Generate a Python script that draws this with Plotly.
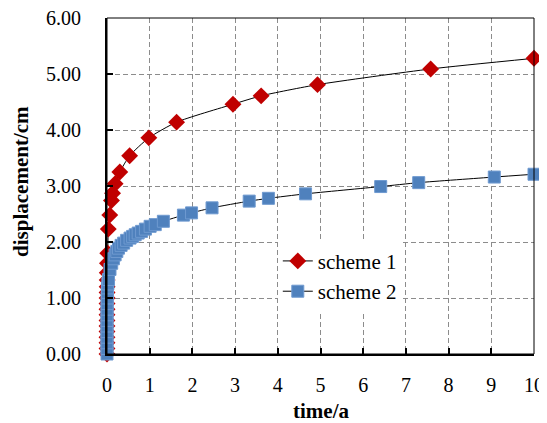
import plotly.graph_objects as go

# scheme 1 (red diamonds)
t1 = [0, 0, 0, 0, 0, 0, 0, 0, 0.001, 0.001, 0.002, 0.002, 0.003, 0.004, 0.006, 0.01, 0.018,
      0.03, 0.065, 0.105, 0.13, 0.19, 0.30, 0.53, 0.98, 1.63, 2.95, 3.61, 4.93, 7.58, 10.0]
d1 = [0.0, 0.1, 0.2, 0.3, 0.4, 0.5, 0.6, 0.7, 0.8, 0.9, 1.0, 1.1, 1.2, 1.32, 1.45, 1.62, 1.80,
      2.23, 2.48, 2.74, 2.87, 3.04, 3.25, 3.54, 3.86, 4.14, 4.46, 4.61, 4.81, 5.09, 5.28]

# scheme 2 (blue squares)
t2 = [0, 0, 0, 0, 0, 0, 0, 0.001, 0.002, 0.003, 0.005, 0.008, 0.012, 0.02, 0.035, 0.07, 0.11,
      0.15, 0.19, 0.23, 0.27, 0.33, 0.39, 0.46, 0.54, 0.60, 0.66, 0.73, 0.81, 0.90, 1.01, 1.13,
      1.32, 1.79, 1.98, 2.46, 3.33, 3.78, 4.65, 6.41, 7.30, 9.07, 10.0]
d2 = [0.0, 0.1, 0.2, 0.3, 0.4, 0.5, 0.6, 0.7, 0.8, 0.9, 1.0, 1.1, 1.18, 1.25, 1.33, 1.51, 1.62,
      1.70, 1.77, 1.83, 1.89, 1.94, 1.98, 2.03, 2.07, 2.10, 2.13, 2.16, 2.19, 2.23, 2.28, 2.31,
      2.37, 2.48, 2.52, 2.61, 2.73, 2.78, 2.86, 2.99, 3.06, 3.16, 3.21]

x_ticks = list(range(0, 11))
y_ticks = [0, 1, 2, 3, 4, 5, 6]
x_title = "time/a"
y_title = "displacement/cm"

FONT = "Liberation Serif"

fig = go.Figure()
fig.add_trace(go.Scatter(
    x=t1, y=d1, name="scheme 1", mode="lines+markers", cliponaxis=False,
    line=dict(color="black", width=1, shape="spline", smoothing=0.6),
    marker=dict(symbol="diamond", size=13, color="#C00000", line=dict(width=0)),
))
fig.add_trace(go.Scatter(
    x=t2, y=d2, name="scheme 2", mode="lines+markers", cliponaxis=False,
    line=dict(color="black", width=1, shape="spline", smoothing=0.6),
    marker=dict(symbol="square", size=12, color="#4F81BD", line=dict(width=1, color="#6F9AD0")),
))

# page body has an 8px margin, so the figure is made smaller and offset accordingly
fig.update_layout(
    width=539, height=415,
    margin=dict(l=99, r=13, t=10, b=69, autoexpand=False),
    paper_bgcolor="white", plot_bgcolor="white",
    font=dict(family=FONT, size=20, color="black"),
    showlegend=True,
    legend=dict(x=0.40, y=0.337, xanchor="left", yanchor="top",
                bgcolor="white", borderwidth=0, font=dict(size=21, family=FONT, color="black"),
                tracegroupgap=0),
    xaxis=dict(range=[0, 10], tickvals=x_ticks, ticktext=[str(v) for v in x_ticks],
               ticks="inside", ticklen=6, tickwidth=1.5, tickcolor="black",
               showline=True, linecolor="black", linewidth=2, automargin=False,
               showgrid=True, gridcolor="#8C8C8C", gridwidth=1, griddash="5px,3px",
               zeroline=False, ticklabelstandoff=12, ticklabeloverflow="allow",
               tickfont=dict(family=FONT, size=20, color="black")),
    yaxis=dict(range=[0, 6], tickvals=y_ticks, ticktext=[f"{v:.2f}" for v in y_ticks],
               ticks="inside", ticklen=6, tickwidth=1.5, tickcolor="black",
               showline=True, linecolor="black", linewidth=2, automargin=False,
               showgrid=True, gridcolor="#8C8C8C", gridwidth=1, griddash="5px,3px",
               zeroline=False, ticklabelstandoff=20, ticklabeloverflow="allow",
               tickfont=dict(family=FONT, size=20, color="black")),
    annotations=[
        dict(text=f"<b>{x_title}</b>", xref="paper", yref="paper", x=0.5, y=-0.169,
             xanchor="center", yanchor="middle", showarrow=False,
             font=dict(size=21, family=FONT, color="black")),
        dict(text=f"<b>{y_title}</b>", xref="paper", yref="paper", x=-0.203, y=0.513,
             xanchor="center", yanchor="middle", showarrow=False, textangle=-90,
             font=dict(size=21, family=FONT, color="black")),
    ],
    shapes=[dict(type="rect", xref="paper", yref="paper", x0=0, y0=0, x1=1, y1=1,
                 line=dict(color="black", width=1), layer="above")],
)

fig.write_html("out.html")
